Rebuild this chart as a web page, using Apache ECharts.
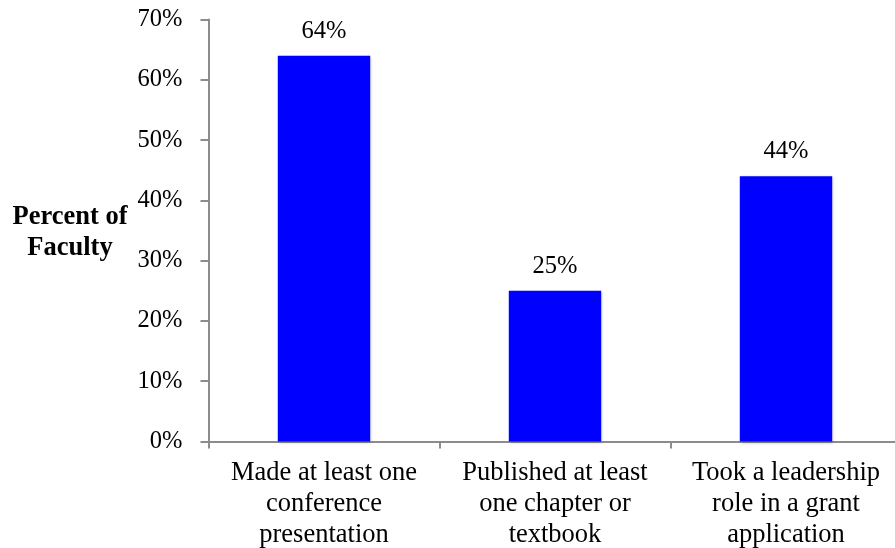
<!DOCTYPE html>
<html>
<head>
<meta charset="utf-8">
<script src="https://cdn.jsdelivr.net/npm/echarts@6/dist/echarts.min.js"></script>
<style>
html,body{margin:0;padding:0;background:#fff;}
#chart{width:895px;height:548px;}
</style>
</head>
<body>
<div id="chart"></div>
<script>
// Faculty scholarly activity, share of faculty
const categories = [
  'Made at least one\nconference\npresentation',
  'Published at least\none chapter or\ntextbook',
  'Took a leadership\nrole in a grant\napplication'
];
const percentValues = [64, 25, 44];
const yTicks = [0, 10, 20, 30, 40, 50, 60, 70];
const yAxisTitle = 'Percent of\nFaculty';

const serif = '"Liberation Serif", "Times New Roman", serif';
const chart = echarts.init(document.getElementById('chart'));

chart.setOption({
  animation: false,
  backgroundColor: '#ffffff',
  grid: {
    left: 208.5, width: 693, top: 19.5, height: 422,
    containLabel: false,
    outerBoundsMode: 'none'
  },
  xAxis: {
    type: 'category',
    data: categories,
    axisLine: { lineStyle: { color: '#8c8c8c', width: 2 } },
    axisTick: { show: true, length: 7, lineStyle: { color: '#8c8c8c', width: 2 } },
    axisLabel: {
      margin: 16,
      fontFamily: serif,
      fontSize: 26.5,
      color: '#000',
      lineHeight: 31,
      interval: 0
    }
  },
  yAxis: {
    type: 'value',
    min: yTicks[0],
    max: yTicks[yTicks.length - 1],
    interval: 10,
    splitLine: { show: false },
    axisLine: { show: true, lineStyle: { color: '#8c8c8c', width: 2 } },
    axisTick: { show: true, length: 8, lineStyle: { color: '#8c8c8c', width: 2 } },
    axisLabel: {
      margin: 26,
      fontFamily: serif,
      fontSize: 24.5,
      color: '#000',
      formatter: v => v + '%'
    }
  },
  graphic: [{
    type: 'text',
    x: 70,
    y: 202,
    style: {
      text: yAxisTitle,
      fontFamily: serif,
      fontSize: 26.5,
      fontWeight: 'bold',
      fill: '#000',
      align: 'center',
      verticalAlign: 'top',
      lineHeight: 31
    }
  }],
  series: [{
    type: 'bar',
    data: percentValues,
    barWidth: '40%',
    itemStyle: {
      color: '#0000ff',
      shadowColor: 'rgba(0,0,0,0.25)',
      shadowBlur: 3,
      shadowOffsetX: 1,
      shadowOffsetY: 1
    },
    label: {
      show: true,
      position: 'top',
      distance: 12,
      fontFamily: serif,
      fontSize: 24.5,
      color: '#000',
      formatter: p => p.value + '%'
    }
  }]
});
</script>
</body>
</html>
